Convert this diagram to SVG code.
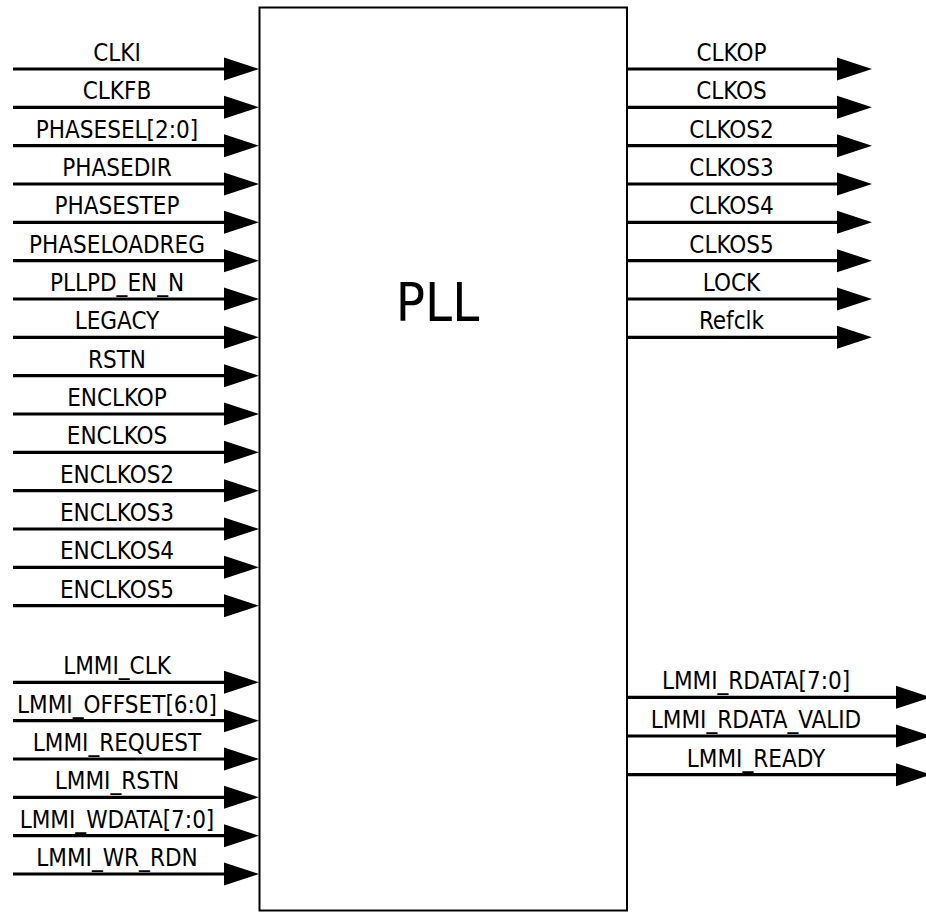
<svg xmlns="http://www.w3.org/2000/svg" width="926" height="912" viewBox="0 0 926 912">
<style>
.box{fill:#fff;stroke:#000;stroke-width:2}
.w{stroke:#000;stroke-width:3.2;fill:none}
.lbl{font-family:"DejaVu Sans Condensed","Liberation Sans",sans-serif;font-stretch:condensed;font-size:24px;fill:#000;text-anchor:middle}
.big{font-family:"DejaVu Sans Condensed","Liberation Sans",sans-serif;font-stretch:condensed;font-size:54px;fill:#000;text-anchor:middle}
</style>
<defs>
<marker id="ah" markerUnits="userSpaceOnUse" markerWidth="36" markerHeight="24" refX="0" refY="11.5" orient="auto" overflow="visible">
<path d="M0,0 L35,11.5 L0,23 Z" fill="#000"/>
</marker>
</defs>
<rect width="926" height="912" fill="#fff"/>
<g id="pll">
<rect class="box" x="259.5" y="7.5" width="367.5" height="903"/>
<text class="big" x="437.5" y="321">PLL</text>
</g>
<g id="connectors" class="w">
<line x1="13" y1="69" x2="224" y2="69" marker-end="url(#ah)"/>
<line x1="13" y1="107.3" x2="224" y2="107.3" marker-end="url(#ah)"/>
<line x1="13" y1="145.7" x2="224" y2="145.7" marker-end="url(#ah)"/>
<line x1="13" y1="184" x2="224" y2="184" marker-end="url(#ah)"/>
<line x1="13" y1="222.3" x2="224" y2="222.3" marker-end="url(#ah)"/>
<line x1="13" y1="260.7" x2="224" y2="260.7" marker-end="url(#ah)"/>
<line x1="13" y1="299" x2="224" y2="299" marker-end="url(#ah)"/>
<line x1="13" y1="337.3" x2="224" y2="337.3" marker-end="url(#ah)"/>
<line x1="13" y1="375.7" x2="224" y2="375.7" marker-end="url(#ah)"/>
<line x1="13" y1="414" x2="224" y2="414" marker-end="url(#ah)"/>
<line x1="13" y1="452.3" x2="224" y2="452.3" marker-end="url(#ah)"/>
<line x1="13" y1="490.7" x2="224" y2="490.7" marker-end="url(#ah)"/>
<line x1="13" y1="529" x2="224" y2="529" marker-end="url(#ah)"/>
<line x1="13" y1="567.3" x2="224" y2="567.3" marker-end="url(#ah)"/>
<line x1="13" y1="605.7" x2="224" y2="605.7" marker-end="url(#ah)"/>
<line x1="13" y1="682.3" x2="224" y2="682.3" marker-end="url(#ah)"/>
<line x1="13" y1="720.7" x2="224" y2="720.7" marker-end="url(#ah)"/>
<line x1="13" y1="759" x2="224" y2="759" marker-end="url(#ah)"/>
<line x1="13" y1="797.3" x2="224" y2="797.3" marker-end="url(#ah)"/>
<line x1="13" y1="835.7" x2="224" y2="835.7" marker-end="url(#ah)"/>
<line x1="13" y1="874" x2="224" y2="874" marker-end="url(#ah)"/>
<line x1="627" y1="69" x2="837" y2="69" marker-end="url(#ah)"/>
<line x1="627" y1="107.3" x2="837" y2="107.3" marker-end="url(#ah)"/>
<line x1="627" y1="145.7" x2="837" y2="145.7" marker-end="url(#ah)"/>
<line x1="627" y1="184" x2="837" y2="184" marker-end="url(#ah)"/>
<line x1="627" y1="222.3" x2="837" y2="222.3" marker-end="url(#ah)"/>
<line x1="627" y1="260.7" x2="837" y2="260.7" marker-end="url(#ah)"/>
<line x1="627" y1="299" x2="837" y2="299" marker-end="url(#ah)"/>
<line x1="627" y1="337.3" x2="837" y2="337.3" marker-end="url(#ah)"/>
<line x1="627" y1="697.3" x2="896" y2="697.3" marker-end="url(#ah)"/>
<line x1="627" y1="736" x2="896" y2="736" marker-end="url(#ah)"/>
<line x1="627" y1="774.7" x2="896" y2="774.7" marker-end="url(#ah)"/>
</g>
<g id="inputs">
<g id="in-clki"><text class="lbl" x="117" y="61">CLKI</text></g>
<g id="in-clkfb"><text class="lbl" x="117" y="99.3">CLKFB</text></g>
<g id="in-phasesel"><text class="lbl" x="117" y="137.7">PHASESEL[2:0]</text></g>
<g id="in-phasedir"><text class="lbl" x="117" y="176">PHASEDIR</text></g>
<g id="in-phasestep"><text class="lbl" x="117" y="214.3">PHASESTEP</text></g>
<g id="in-phaseloadreg"><text class="lbl" x="117" y="252.7">PHASELOADREG</text></g>
<g id="in-pllpd"><text class="lbl" x="117" y="291">PLLPD_EN_N</text></g>
<g id="in-legacy"><text class="lbl" x="117" y="329.3">LEGACY</text></g>
<g id="in-rstn"><text class="lbl" x="117" y="367.7">RSTN</text></g>
<g id="in-enclkop"><text class="lbl" x="117" y="406">ENCLKOP</text></g>
<g id="in-enclkos"><text class="lbl" x="117" y="444.3">ENCLKOS</text></g>
<g id="in-enclkos2"><text class="lbl" x="117" y="482.7">ENCLKOS2</text></g>
<g id="in-enclkos3"><text class="lbl" x="117" y="521">ENCLKOS3</text></g>
<g id="in-enclkos4"><text class="lbl" x="117" y="559.3">ENCLKOS4</text></g>
<g id="in-enclkos5"><text class="lbl" x="117" y="597.7">ENCLKOS5</text></g>
<g id="in-lmmi-clk"><text class="lbl" x="117" y="674.3">LMMI_CLK</text></g>
<g id="in-lmmi-offset"><text class="lbl" x="117" y="712.7">LMMI_OFFSET[6:0]</text></g>
<g id="in-lmmi-request"><text class="lbl" x="117" y="751">LMMI_REQUEST</text></g>
<g id="in-lmmi-rstn"><text class="lbl" x="117" y="789.3">LMMI_RSTN</text></g>
<g id="in-lmmi-wdata"><text class="lbl" x="117" y="827.7">LMMI_WDATA[7:0]</text></g>
<g id="in-lmmi-wr-rdn"><text class="lbl" x="117" y="866">LMMI_WR_RDN</text></g>
</g>
<g id="outputs">
<g id="out-clkop"><text class="lbl" x="731.5" y="61">CLKOP</text></g>
<g id="out-clkos"><text class="lbl" x="731.5" y="99.3">CLKOS</text></g>
<g id="out-clkos2"><text class="lbl" x="731.5" y="137.7">CLKOS2</text></g>
<g id="out-clkos3"><text class="lbl" x="731.5" y="176">CLKOS3</text></g>
<g id="out-clkos4"><text class="lbl" x="731.5" y="214.3">CLKOS4</text></g>
<g id="out-clkos5"><text class="lbl" x="731.5" y="252.7">CLKOS5</text></g>
<g id="out-lock"><text class="lbl" x="731.5" y="291">LOCK</text></g>
<g id="out-refclk"><text class="lbl" x="731.5" y="329.3">Refclk</text></g>
<g id="out-lmmi-rdata"><text class="lbl" x="756" y="689.3">LMMI_RDATA[7:0]</text></g>
<g id="out-lmmi-rdata-valid"><text class="lbl" x="756" y="728">LMMI_RDATA_VALID</text></g>
<g id="out-lmmi-ready"><text class="lbl" x="756" y="766.7">LMMI_READY</text></g>
</g>
</svg>
